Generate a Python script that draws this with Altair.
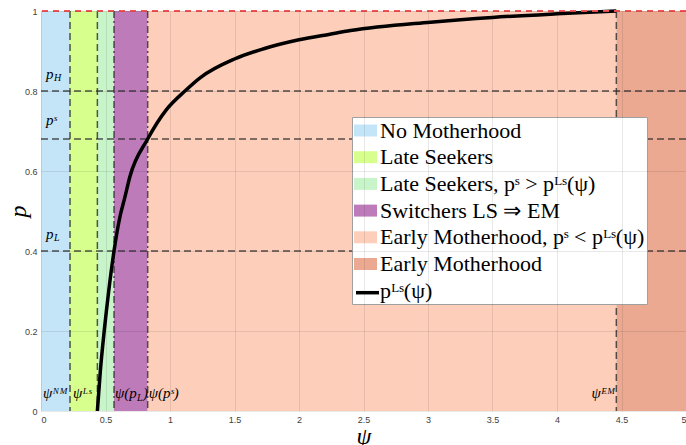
import altair as alt
import pandas as pd

# Regime thresholds on the psi axis
PSI_NM = 0.225
PSI_LS = 0.437
PSI_PL = 0.566
PSI_PS = 0.827
PSI_EM = 4.46
PSI_MAX = 5.0

# Probability levels
P_L = 0.40
P_S = 0.68
P_H = 0.80
P_TOP = 1.0

region_names = [
    "No Motherhood",
    "Late Seekers",
    "Late Seekers, pˢ > pᴸˢ(ψ)",
    "Switchers LS ⇒ EM",
    "Early Motherhood, pˢ < pᴸˢ(ψ)",
    "Early Motherhood",
]
region_start = [0.0, PSI_NM, PSI_LS, PSI_PL, PSI_PS, PSI_EM]
region_end = [PSI_NM, PSI_LS, PSI_PL, PSI_PS, PSI_EM, PSI_MAX]
region_colors = ["#c4e4f8", "#d7ff8e", "#c8f4ca", "#be7bba", "#fdceba", "#eba992"]

curve_label = "pᴸˢ(ψ)"
curve_psi = [0.437, 0.46, 0.49, 0.525, 0.566, 0.615, 0.646, 0.69, 0.827, 0.974,
             1.116, 1.233, 1.50, 1.72, 2.0, 2.24, 2.4, 3.02, 3.5, 4.0, 4.46]
curve_p = [0.0, 0.10, 0.20, 0.30, 0.40, 0.49, 0.529, 0.587, 0.68, 0.754,
           0.80, 0.833, 0.88, 0.905, 0.928, 0.942, 0.951, 0.972, 0.984, 0.993, 1.0]

x_ticks = [0, 0.5, 1, 1.5, 2, 2.5, 3, 3.5, 4, 4.5, 5]
y_ticks = [0, 0.1, 0.2, 0.3, 0.4, 0.5, 0.6, 0.7, 0.8, 0.9, 1]

W, H = 645, 400
SERIF = "Liberation Serif"
DASH_COLOR = "#2b2b2b"

# legend box geometry (pixels from the plot origin)
LEG_X, LEG_Y = 311, 106
LEG_PAD, ROW_PAD, SYM = 2, 3.7, 23

regions = pd.DataFrame({"region": region_names, "start": region_start, "end": region_end})
curve = pd.DataFrame({"psi": curve_psi, "p": curve_p, "series": curve_label})
levels = pd.DataFrame({"p": [P_L, P_S, P_H]})
dashed_psi = pd.DataFrame({"psi": [PSI_NM, PSI_LS, PSI_EM]})
dashdot_psi = pd.DataFrame({"psi": [PSI_PL, PSI_PS]})
top_level = pd.DataFrame({"p": [P_TOP]})

x_scale = alt.Scale(domain=[0, PSI_MAX], nice=False, zero=False)
y_scale = alt.Scale(domain=[0, 1], nice=False, zero=False)

axis_common = dict(
    format="~g", grid=True, gridColor="#000000", gridOpacity=0.09, gridWidth=1,
    ticks=False, domain=False, labelFont="Liberation Sans", labelFontSize=9,
    labelColor="#404040", titleFont=SERIF, titleFontStyle="italic",
    titleFontWeight="normal", titleFontSize=24, titleColor="black", zindex=1,
)
x_axis = alt.Axis(values=x_ticks, labelPadding=4, titlePadding=0, **axis_common)
y_axis = alt.Axis(values=y_ticks, labelPadding=4, titleX=-23, titleY=H / 2,
                  titleAngle=270, titleAlign="center", titleBaseline="middle",
                  **axis_common)

rect_path = "M-1,-0.52H1V0.52H-1Z"
line_path = "M-1,0H1"

legend_text = dict(
    title=None, orient="none", padding=LEG_PAD, cornerRadius=0,
    labelFont=SERIF, labelFontSize=22, labelColor="black", labelLimit=400,
    labelOffset=3, rowPadding=ROW_PAD, symbolSize=SYM * SYM, symbolOpacity=1,
)

# region legend; its last row is kept blank (white swatch) for the curve entry
region_legend = alt.Legend(
    legendX=LEG_X, legendY=LEG_Y, fillColor="white", strokeColor="#a0a0a0",
    symbolType=rect_path, symbolStrokeWidth=0, **legend_text,
)
# curve legend: a stroke swatch laid over the blank last row
curve_legend = alt.Legend(
    legendX=LEG_X, legendY=LEG_Y + 6 * (SYM + ROW_PAD),
    symbolType=line_path, symbolStrokeWidth=3.5, labelOpacity=0, **legend_text,
)

color_scale = alt.Scale(domain=region_names + [curve_label], range=region_colors + ["#ffffff"])

bands = alt.Chart(regions).mark_rect(opacity=1).encode(
    x=alt.X("start:Q", scale=x_scale, axis=x_axis, title="ψ"),
    x2="end:Q",
    color=alt.Color("region:N", scale=color_scale, legend=region_legend),
)

h_rules = alt.Chart(levels).mark_rule(
    color=DASH_COLOR, strokeDash=[7, 4], strokeWidth=1.5, opacity=0.8
).encode(y=alt.Y("p:Q", scale=y_scale, axis=y_axis, title="p"))

v_dashed = alt.Chart(dashed_psi).mark_rule(
    color=DASH_COLOR, strokeDash=[7, 4], strokeWidth=1.5, opacity=0.8
).encode(x=alt.X("psi:Q", scale=x_scale))

v_dashdot = alt.Chart(dashdot_psi).mark_rule(
    color=DASH_COLOR, strokeDash=[7, 3, 2, 3], strokeWidth=1.5, opacity=0.8
).encode(x=alt.X("psi:Q", scale=x_scale))

top_rule = alt.Chart(top_level).mark_rule(
    color="#f05454", strokeDash=[6, 5], strokeWidth=2
).encode(y=alt.Y("p:Q", scale=y_scale))

curve_line = alt.Chart(curve).mark_line(
    strokeWidth=3.5, interpolate="monotone"
).encode(
    x=alt.X("psi:Q", scale=x_scale),
    y=alt.Y("p:Q", scale=y_scale),
    stroke=alt.Stroke("series:N", scale=alt.Scale(domain=[curve_label], range=["#000000"]),
                      legend=curve_legend),
)


def note(psi, p, text, dx, dy, size=15, align="left"):
    """One italic serif text piece anchored at a (psi, p) position."""
    df = pd.DataFrame({"psi": [psi], "p": [p], "t": [text]})
    return alt.Chart(df).mark_text(
        font=SERIF, fontStyle="italic", fontSize=size, color="black",
        align=align, baseline="alphabetic", dx=dx, dy=dy,
    ).encode(x=alt.X("psi:Q", scale=x_scale), y=alt.Y("p:Q", scale=y_scale), text="t:N")


notes = [
    # probability levels on the left edge
    note(0, P_H, "p", 5, -12),
    note(0, P_H, "H", 13, -10, size=10),
    note(0, P_S, "pˢ", 5, -14),
    note(0, P_L, "p", 5, -12),
    note(0, P_L, "L", 13, -10, size=10),
    # thresholds along the bottom
    note(0, 0, "ψᴺᴹ", 2, -13),
    note(PSI_NM, 0, "ψᴸˢ", 3, -13),
    note(PSI_PL, 0, "ψ(p", 1, -13),
    note(PSI_PL, 0, "L", 23, -10, size=10),
    note(PSI_PL, 0, ")", 29, -13),
    note(PSI_PS, 0, "ψ(pˢ)", 1, -13),
    note(PSI_EM, 0, "ψᴱᴹ", -1, -13, align="right"),
]

chart = alt.layer(
    bands, h_rules, v_dashed, v_dashdot, curve_line, top_rule, *notes
).resolve_legend(color="independent", stroke="independent").properties(
    width=W, height=H,
    autosize=alt.AutoSizeParams(type="none"),
    padding={"left": 41, "top": 11, "right": 0, "bottom": 34},
    background="white",
).configure_view(stroke=None)

chart.save("out.html", embed_options={"renderer": "svg", "actions": False})
